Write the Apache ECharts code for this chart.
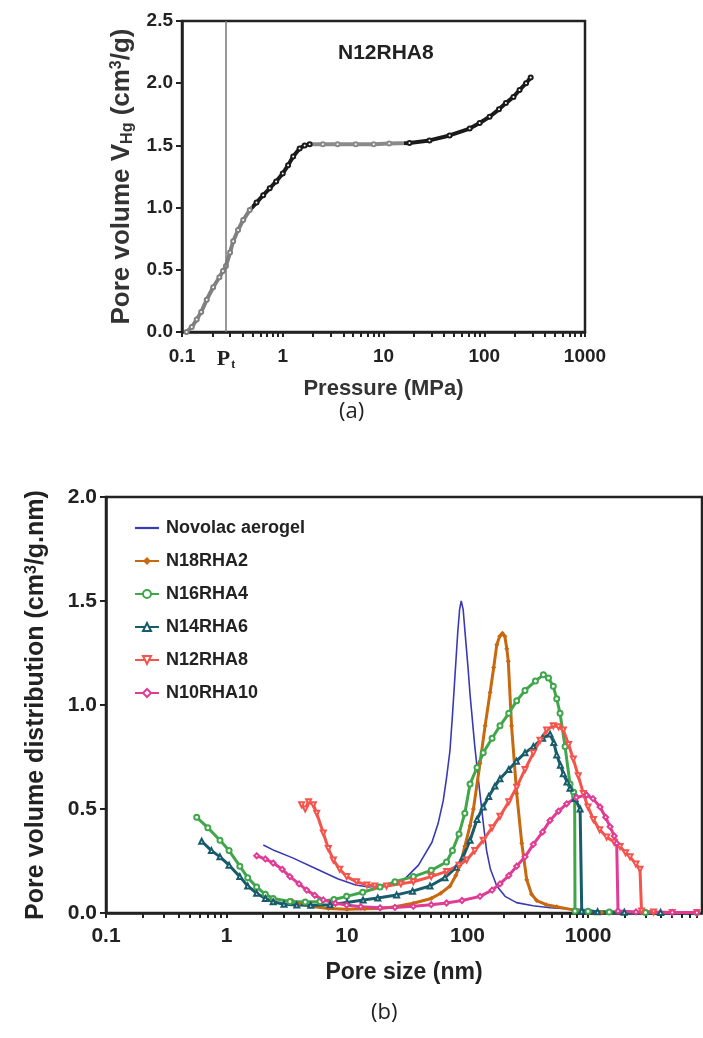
<!DOCTYPE html>
<html><head><meta charset="utf-8">
<script src="https://cdn.jsdelivr.net/npm/echarts@6/dist/echarts.min.js"></script>
<style>html,body{margin:0;padding:0;background:#fff}#c{width:703px;height:1038px}</style>
</head><body><div id="c"></div>
<script>
// ---------- Chart (a) data ----------
const pressureTickLabels = [0.1, 0.273, 1, 10, 100, 1000];
const ptPressure = 0.273;
const intrusionData = [[0.111,0],[0.125,0.04],[0.14,0.1],[0.155,0.16],[0.176,0.26],[0.204,0.36],[0.235,0.44],[0.255,0.49],[0.273,0.53],[0.30,0.64],[0.322,0.73],[0.36,0.82],[0.405,0.9],[0.47,0.98],[0.549,1.04],[0.64,1.1],[0.743,1.155],[0.86,1.21],[1.0,1.275],[1.13,1.34],[1.27,1.41],[1.47,1.475],[1.65,1.5],[1.85,1.51],[2.5,1.51],[3.5,1.51],[5.3,1.51],[8,1.51],[11.4,1.515],[18.1,1.52],[28.6,1.54],[45.3,1.58],[71.7,1.635],[90,1.68],[113,1.73],[140,1.79],[164,1.84],[195,1.89],[224,1.945],[260,2.0],[289,2.045]];

// ---------- Chart (b) data ----------
const poreTickLabels = [0.1, 1, 10, 100, 1000];
const seriesNames = ['Novolac aerogel','N18RHA2','N16RHA4','N14RHA6','N12RHA8','N10RHA10'];
const novolacData = [[2.02,0.327],[2.5,0.30],[3.54,0.265],[5.43,0.215],[8.36,0.165],[11.8,0.135],[15.2,0.125],[21.5,0.135],[30.3,0.165],[39.2,0.23],[50.7,0.34],[57,0.43],[62.9,0.54],[67,0.65],[71.5,0.78],[75,0.95],[79.3,1.17],[83,1.35],[86,1.46],[88.7,1.5],[92,1.46],[97,1.3],[101,1.18],[105,1.05],[115,0.80],[127,0.57],[136,0.42],[144,0.30],[155,0.21],[175,0.13],[205,0.08],[255,0.05],[350,0.035],[484,0.025],[700,0.02],[1000,0.015],[1175,0.01],[1330,0.003]];
const n18Data = [[3.5,0.06],[4,0.045],[5,0.032],[7,0.022],[10,0.018],[14,0.02],[18.8,0.022],[25,0.03],[35.5,0.047],[50,0.07],[60,0.095],[71.6,0.13],[80,0.18],[86.7,0.23],[95,0.32],[105,0.42],[112,0.5],[127,0.72],[140,0.9],[154,1.06],[165,1.18],[175,1.29],[185,1.33],[195,1.345],[204,1.33],[212,1.27],[218,1.21],[232,0.9],[256,0.575],[282,0.335],[310,0.16],[340,0.09],[375,0.06],[450,0.04],[550,0.03],[750,0.015],[1038,0.006],[1300,0.003]];
const n16Data = [[0.566,0.46],[0.7,0.41],[0.883,0.35],[1.05,0.3],[1.29,0.225],[1.5,0.17],[1.78,0.125],[2.1,0.09],[2.44,0.07],[3.36,0.055],[4.5,0.053],[5.97,0.055],[7.8,0.065],[9.93,0.08],[13.5,0.1],[18.8,0.125],[25,0.15],[35.5,0.175],[50,0.205],[67,0.245],[75,0.3],[85,0.38],[95,0.48],[105,0.62],[120,0.7],[135,0.77],[160,0.84],[186,0.9],[220,0.96],[256,1.02],[300,1.07],[366,1.115],[426,1.145],[470,1.13],[515,1.09],[550,1.03],[586,0.96],[645,0.8],[709,0.62],[760,0.58],[775,0.56],[780,0.01],[1000,0.008],[1500,0.005],[3000,0.003],[8000,0.002]];
const n14Data = [[0.622,0.345],[0.75,0.3],[0.883,0.27],[1.05,0.23],[1.29,0.175],[1.5,0.13],[1.78,0.095],[2.1,0.07],[2.44,0.054],[3,0.042],[3.83,0.038],[5,0.037],[7.23,0.04],[10,0.05],[13.6,0.062],[18,0.072],[25.8,0.087],[35,0.105],[48.8,0.13],[65,0.17],[81,0.22],[92,0.27],[105,0.35],[120,0.45],[135,0.51],[150,0.56],[169,0.61],[186,0.645],[220,0.69],[255,0.73],[300,0.77],[352,0.8],[420,0.84],[484,0.86],[520,0.82],[550,0.76],[590,0.71],[624,0.67],[670,0.63],[709,0.6],[780,0.55],[860,0.5],[887,0.01],[1200,0.006],[2000,0.004],[4000,0.003]];
const n12Data = [[4.2,0.52],[4.5,0.5],[4.8,0.535],[5.26,0.52],[5.6,0.48],[6.36,0.385],[7.0,0.31],[7.7,0.255],[8.7,0.21],[9.93,0.175],[12,0.15],[14.6,0.135],[17,0.13],[21.3,0.13],[28,0.14],[35.5,0.15],[50,0.175],[67,0.2],[85,0.23],[98.5,0.255],[115,0.3],[135,0.35],[160,0.41],[186,0.465],[220,0.535],[256,0.605],[300,0.69],[352,0.77],[400,0.83],[454,0.88],[515,0.9],[570,0.895],[624,0.88],[690,0.81],[755,0.74],[830,0.66],[914,0.575],[1000,0.51],[1107,0.45],[1250,0.4],[1429,0.365],[1650,0.34],[1844,0.32],[2050,0.29],[2233,0.27],[2500,0.235],[2700,0.21],[2780,0.01],[3500,0.005],[5000,0.003],[8000,0.003]];
const n10Data = [[1.78,0.275],[2.1,0.26],[2.44,0.24],[2.9,0.21],[3.36,0.175],[4,0.14],[4.63,0.11],[5.4,0.085],[6.36,0.063],[8,0.047],[9.93,0.038],[13,0.03],[18.8,0.025],[25,0.027],[35.5,0.032],[50,0.04],[67,0.048],[90,0.06],[127,0.08],[160,0.11],[186,0.14],[220,0.18],[256,0.225],[300,0.27],[352,0.33],[420,0.39],[484,0.445],[570,0.49],[665,0.525],[800,0.555],[973,0.567],[1100,0.55],[1259,0.51],[1400,0.46],[1524,0.415],[1650,0.37],[1730,0.335],[1774,0.01],[2500,0.005],[5000,0.003],[8000,0.002]];

const seriesColors = ['#3a3ab4','#c8680f','#3fa64a','#185c6c','#f4544c','#e03c96'];
const seriesSymbols = ['none','diamond','emptyCircle','emptyTriangle','emptyTriangle','emptyDiamond'];
const seriesData = [novolacData, n18Data, n16Data, n14Data, n12Data, n10Data];

function logTicks(lo, hi, maxVal){
  const t=[];
  for(let e=lo;e<hi;e++){ for(let k=1;k<10;k++){ const v=+(k*Math.pow(10,e)).toPrecision(3); if(v<=maxVal) t.push(v);} }
  if(Math.pow(10,hi)<=maxVal) t.push(Math.pow(10,hi));
  return t;
}
const FONT = '"Liberation Sans", Arial, Helvetica, sans-serif';
const ink = '#222';

const chart = echarts.init(document.getElementById('c'), null, {renderer:'canvas'});

const commonAxisLine = {show:true, lineStyle:{color:ink, width:2.5}};
const fmtNum = v => { const r = +(+v).toPrecision(3); return String(r); };

const legendData = seriesNames.map((n,i)=> i===0 ? {name:n, icon:'path://M0,0L24,0L24,2.2L0,2.2Z'} : {name:n});

const option = {
  animation:false,
  backgroundColor:'#fff',
  grid:[
    {left:182, top:21, width:403, height:311, show:true, borderColor:ink, borderWidth:2.5, backgroundColor:'transparent'},
    {left:106, top:497, width:596, height:416, show:true, borderColor:ink, borderWidth:2.5, backgroundColor:'transparent'}
  ],
  visualMap:[{type:'piecewise', show:false, seriesIndex:0, dimension:0,
    pieces:[{lt:0.5, color:'#808080'},{gte:0.5, lt:1.9, color:'#1a1a1a'},{gte:1.9, lt:16, color:'#8a8a8a'},{gte:16, color:'#1a1a1a'}]}],
  xAxis:[
    {type:'log', gridIndex:0, logBase:10, min:0.1, max:1000,
     axisLine:commonAxisLine,
     axisTick:{show:true, inside:false, length:5, lineStyle:{color:ink, width:2}, customValues:logTicks(-1,3,1000)},
     axisLabel:{customValues:pressureTickLabels, margin:15, color:ink, fontSize:19, fontWeight:'bold', fontFamily:FONT,
       formatter:v => Math.abs(v-ptPressure)<0.01 ? '{p|P}{t|t}' : fmtNum(v),
       rich:{p:{fontFamily:'"Liberation Serif", "DejaVu Serif", serif', fontWeight:'bold', fontSize:22, color:ink},
             t:{fontFamily:'"Liberation Serif", serif', fontWeight:'bold', fontSize:12, color:ink, verticalAlign:'bottom', padding:[12,0,0,1]}}},
     splitLine:{show:false}, minorTick:{show:false},
     name:'Pressure (MPa)', nameLocation:'middle', nameGap:46,
     nameTextStyle:{fontSize:22, fontWeight:'bold', color:'#333', fontFamily:FONT}},
    {type:'log', gridIndex:1, logBase:10, min:0.1, max:8830,
     axisLine:commonAxisLine,
     axisTick:{show:true, inside:false, length:5, lineStyle:{color:ink, width:2}, customValues:logTicks(-1,4,8830)},
     axisLabel:{customValues:poreTickLabels, margin:13, color:ink, fontSize:21, fontWeight:'bold', fontFamily:FONT,
       formatter:v => fmtNum(v)},
     splitLine:{show:false}, minorTick:{show:false},
     name:'Pore size (nm)', nameLocation:'middle', nameGap:48,
     nameTextStyle:{fontSize:23, fontWeight:'bold', color:ink, fontFamily:FONT}}
  ],
  yAxis:[
    {type:'value', gridIndex:0, min:0, max:2.5, interval:0.5,
     axisLine:commonAxisLine,
     axisTick:{show:true, inside:false, length:6, lineStyle:{color:ink, width:2}},
     axisLabel:{margin:9, color:ink, fontSize:19, fontWeight:'bold', fontFamily:FONT, formatter:v=>(+v).toFixed(1)},
     splitLine:{show:false},
     name:'Pore volume V{sub|Hg} (cm{sup|3}/g)', nameLocation:'middle', nameRotate:90, nameGap:45,
     nameTextStyle:{fontSize:26, fontWeight:'bold', color:'#333', fontFamily:FONT,
       rich:{sub:{fontSize:16, fontWeight:'bold', fontFamily:FONT, color:'#333', verticalAlign:'bottom', padding:[11,0,0,0]},
             sup:{fontSize:16, fontWeight:'bold', fontFamily:FONT, color:'#333', verticalAlign:'top', padding:[0,0,9,0]}}}},
    {type:'value', gridIndex:1, min:0, max:2.0, interval:0.5,
     axisLine:commonAxisLine,
     axisTick:{show:true, inside:false, length:6, lineStyle:{color:ink, width:2}},
     axisLabel:{margin:9, color:ink, fontSize:21, fontWeight:'bold', fontFamily:FONT, formatter:v=>(+v).toFixed(1)},
     splitLine:{show:false},
     name:'Pore volume distribution (cm{sup|3}/g.nm)', nameLocation:'middle', nameRotate:90, nameGap:57,
     nameTextStyle:{fontSize:25, fontWeight:'bold', color:ink, fontFamily:FONT,
       rich:{sup:{fontSize:16, fontWeight:'bold', fontFamily:FONT, color:ink, verticalAlign:'top', padding:[0,0,9,0]}}}}
  ],
  legend:{data:legendData, orient:'vertical', left:129, top:513, itemWidth:24, itemHeight:10, itemGap:13,
    textStyle:{fontSize:18, fontWeight:'bold', fontFamily:FONT, color:ink, lineHeight:20, padding:[0,0,0,2]}},
  graphic:[
    {type:'text', left:383-45, top:43, style:{text:'N12RHA8', font:'bold 21px '+FONT, fill:ink}},
    {type:'text', left:339, top:401, style:{text:'(a)', font:'22px "Open Sans", "Noto Sans", sans-serif', fill:'#222'}},
    {type:'text', left:371, top:1002, style:{text:'(b)', font:'22px "Open Sans", "Noto Sans", sans-serif', fill:'#222'}}
  ],
  series:[
    {type:'line', name:'N12RHA8 intrusion', xAxisIndex:0, yAxisIndex:0, data:intrusionData,
     symbol:'emptyCircle', symbolSize:4, showSymbol:true,
     lineStyle:{width:4}, itemStyle:{borderWidth:1},
     markLine:{silent:true, symbol:['none','none'], label:{show:false},
       lineStyle:{color:'#777', width:1.5, type:'solid'}, data:[{xAxis:ptPressure}]}}
  ].concat(seriesNames.map((n,i)=>({
     type:'line', name:n, xAxisIndex:1, yAxisIndex:1, data:seriesData[i],
     symbol:seriesSymbols[i], symbolSize: i===0?0:5, showSymbol: i!==0,
     symbolRotate: i===4 ? 180 : 0,
     lineStyle:{color:seriesColors[i], width: i===0?1.6:3},
     itemStyle:{color:seriesColors[i], borderWidth:1}
  })))
};
chart.setOption(option);
</script>
</body></html>
